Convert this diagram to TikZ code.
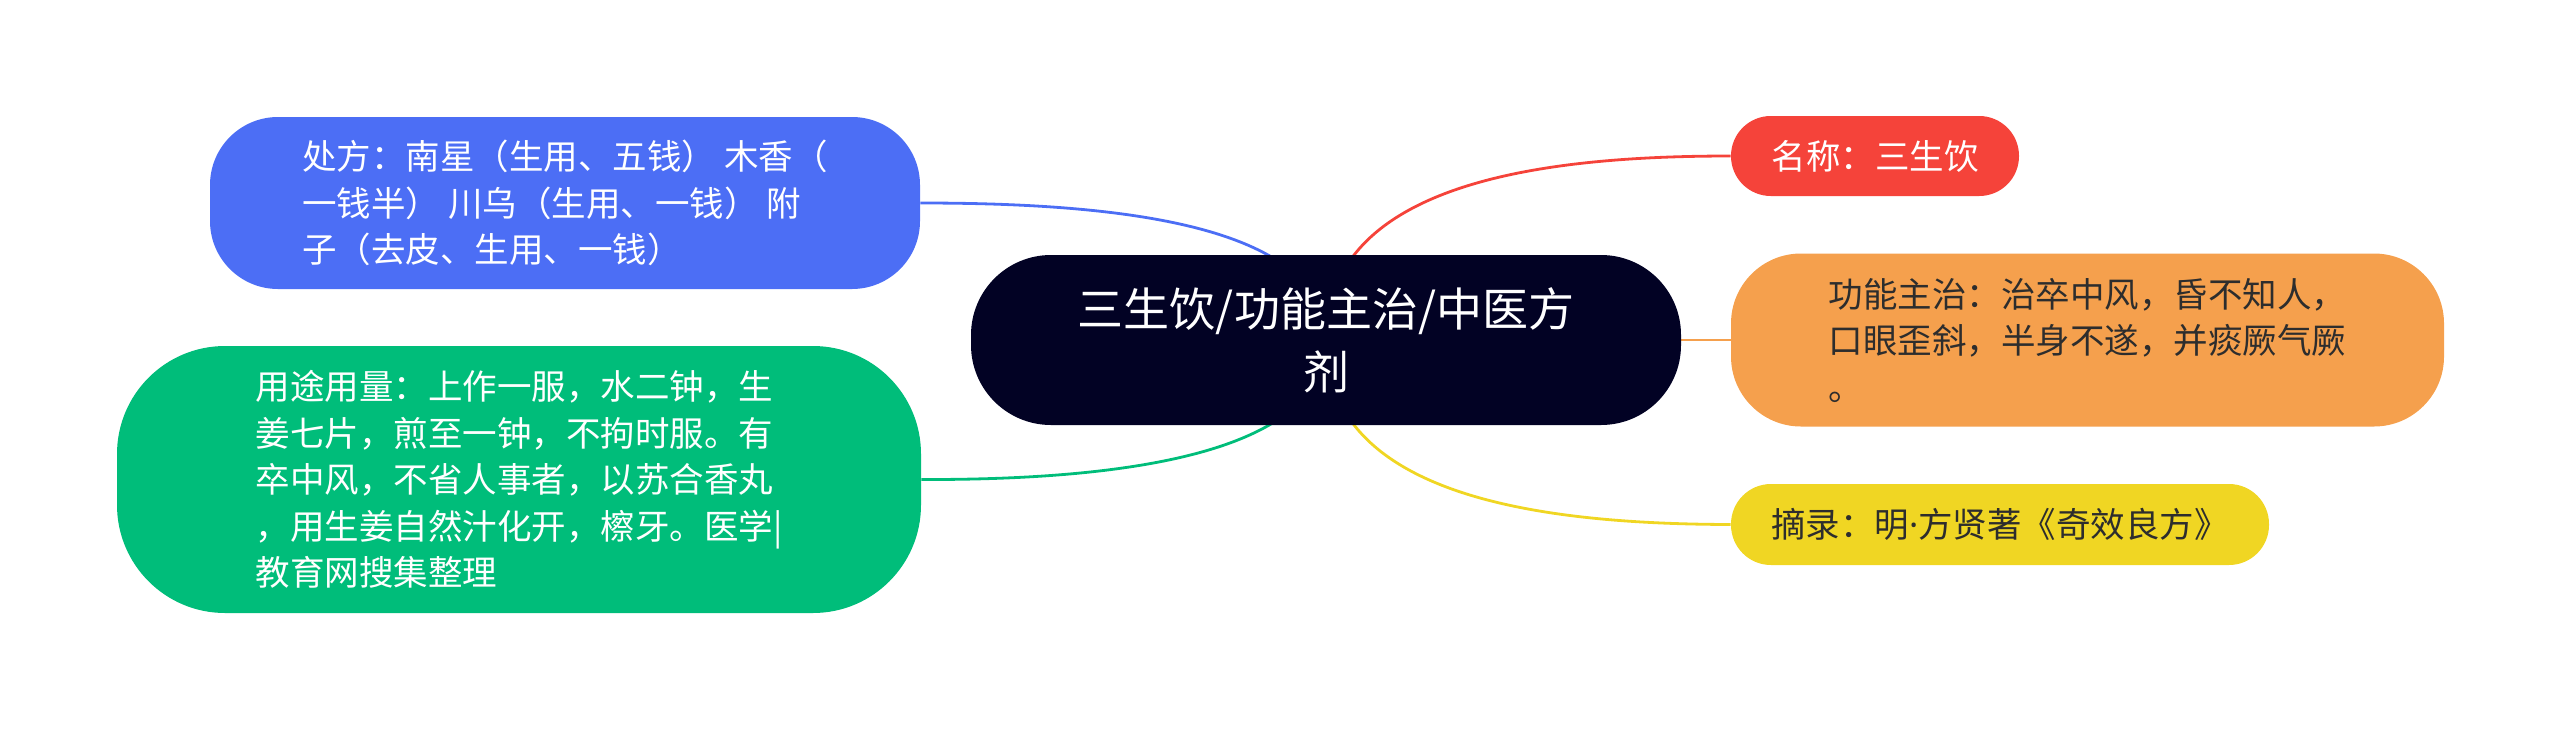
\documentclass[tikz,border=0pt]{standalone}
\usepackage{fontspec}
\setmainfont{Noto Sans CJK SC}
\newfontfamily\dotfont{Noto Sans}
\usetikzlibrary{backgrounds}
\definecolor{rootcol}{RGB}{2,2,36}
\definecolor{bluecol}{RGB}{76,110,245}
\definecolor{greencol}{RGB}{0,189,122}
\definecolor{redcol}{RGB}{245,67,58}
\definecolor{orangecol}{RGB}{245,160,77}
\definecolor{yellowcol}{RGB}{240,214,35}
\definecolor{darktext}{RGB}{45,45,45}
\tikzset{
  topic/.style={inner sep=0pt,align=left,text=white,
    font=\fontsize{17.25}{23.25}\selectfont},
  link/.style={line width=1.4pt},
}
\begin{document}
\begin{tikzpicture}[x=0.5pt,y=-0.5pt]
\useasboundingbox (0,0) rectangle (2560,729);
% central topic
\node[topic,fill=rootcol,rounded corners=40pt,minimum width=355pt,minimum height=85pt,
  align=center,font=\fontsize{23}{31.5}\selectfont] (root) at (1326,340)
  {三生饮/功能主治/中医方\\剂};
% left side
\node[topic,fill=bluecol,rounded corners=34pt,minimum width=355pt,minimum height=86pt] (chufang) at (565,203)
  {处方：南星（生用、五钱） 木香（\\一钱半） 川乌（生用、一钱） 附\\子（去皮、生用、一钱）};
\node[topic,fill=greencol,rounded corners=54pt,minimum width=402pt,minimum height=133.5pt] (yongtu) at (519,479.5)
  {用途用量：上作一服，水二钟，生\\姜七片，煎至一钟，不拘时服。有\\卒中风，不省人事者，以苏合香丸\\，用生姜自然汁化开，檫牙。医学|\\教育网搜集整理};
% right side
\node[topic,fill=redcol,rounded corners=19.9pt,minimum width=144pt,minimum height=40pt] (mingcheng) at (1875,156)
  {名称：三生饮};
\node[topic,fill=orangecol,text=darktext,rounded corners=35pt,minimum width=356.5pt,minimum height=86.5pt] (gongneng) at (2087.5,340)
  {功能主治：治卒中风，昏不知人，\\口眼歪斜，半身不遂，并痰厥气厥\\。};
\node[topic,fill=yellowcol,text=darktext,rounded corners=20pt,minimum width=269pt,minimum height=40.5pt] (zhailu) at (2000,524.5)
  {摘录：明{\dotfont ·}方贤著《奇效良方》};

\begin{pgfonlayer}{background}
\draw[link,bluecol] (chufang.east) .. controls (1100,203) and (1326,220) .. (root.center);
\draw[link,greencol] (yongtu.east) .. controls (1100,480) and (1326,460) .. (root.center);
\draw[link,redcol] (mingcheng.west) .. controls (1550,156) and (1326,180) .. (root.center);
\draw[link,yellowcol] (zhailu.west) .. controls (1550,524) and (1326,500) .. (root.center);
\draw[link,orangecol] (root.east) -- (gongneng.west);
\end{pgfonlayer}
\end{tikzpicture}
\end{document}
